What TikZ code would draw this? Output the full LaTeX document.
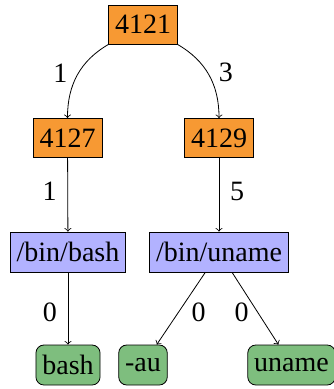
\documentclass[tikz,border=0pt]{standalone}
\usepackage{fontspec}
\setmainfont{Liberation Serif}
\definecolor{pidorange}{RGB}{247,153,51}
\definecolor{exeblue}{RGB}{178,178,255}
\definecolor{arggreen}{RGB}{126,190,126}
\begin{document}
\begin{tikzpicture}[x=0.5pt, y=-0.5pt,
    font=\fontsize{14}{16}\selectfont,
    pid/.style={draw, fill=pidorange, inner xsep=3.2pt, minimum height=19.5pt},
    exe/.style={draw, fill=exeblue, inner xsep=3.2pt, minimum height=20pt},
    arg/.style={draw, fill=arggreen, rounded corners=4pt, inner xsep=3.2pt, minimum height=20pt}]
    \useasboundingbox (0,0) rectangle (333,389);
    \node [pid] (p4121) at (143,24.5) {4121};
    \node [pid] (p4127) at (67.5,138) {4127};
    \node [pid] (p4129) at (219,138) {4129};
    \node [exe] (bash) at (68,252) {/bin/bash};
    \node [exe] (uname) at (219,252) {/bin/uname};
    \node [arg] (argbash) at (68,365) {bash};
    \node [arg] (argau) at (143,365) {-au};
    \node [arg] (arguname) at (291.5,365) {uname};
    \draw [->] (p4121) to[out=210, in=90] node[pos=0.47, left=2pt] {1} (p4127);
    \draw [->] (p4121) to[out=-30, in=90] node[pos=0.47, right=2pt] {3} (p4129);
    \draw [->] (p4127) -- node[pos=0.45, left=2pt] {1} (bash);
    \draw [->] (p4129) -- node[pos=0.45, right=2pt] {5} (uname);
    \draw [->] (bash) -- node[pos=0.55, left=2pt] {0} (argbash);
    \draw [->] (uname) -- node[pos=0.55, right=3pt] {0} (argau);
    \draw [->] (uname) -- node[pos=0.55, left=1pt] {0} (arguname);
\end{tikzpicture}
\end{document}
